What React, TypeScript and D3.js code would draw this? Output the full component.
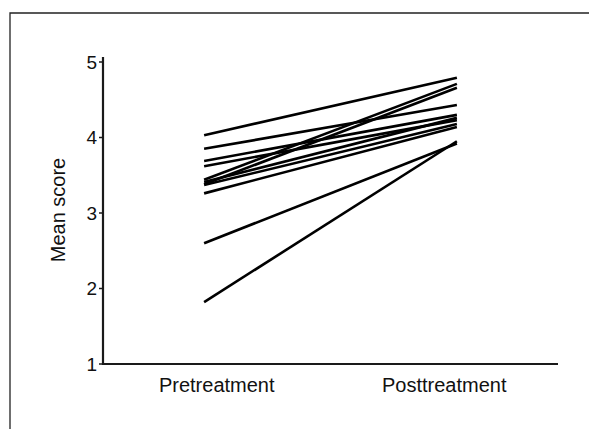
import React, { useEffect, useRef } from "react"
import * as d3 from "d3"

const categories = ["Pretreatment", "Posttreatment"]
const preScores = [4.03, 3.85, 3.69, 3.62, 3.44, 3.38, 3.41, 3.37, 3.26, 2.6, 1.82]
const postScores = [4.79, 4.43, 4.3, 4.23, 4.71, 4.66, 4.26, 4.18, 4.14, 3.92, 3.95]
const yTicks = [1, 2, 3, 4, 5]

const width = 589
const height = 429

export default function App() {
  const ref = useRef<SVGSVGElement>(null)

  useEffect(() => {
    const svg = d3.select(ref.current)
    svg.selectAll("*").remove()

    const left = 103, right = 558, top = 62, bottom = 364
    const font = "'Liberation Sans', Arial, sans-serif"

    const xScale = d3.scalePoint().domain(categories).range([left, right]).padding(0.4)
    const labelScale = d3.scalePoint().domain(categories).range([left, right]).padding(0.5)
    const yScale = d3.scaleLinear().domain([1, 5]).range([bottom, top])

    // frame (top + left only)
    svg.append("path")
      .attr("d", `M10,${height}V13H${width}`)
      .attr("fill", "none")
      .attr("stroke", "#222")
      .attr("stroke-width", 1.3)

    // subject lines
    const line = d3.line<[string, number]>()
      .x(d => xScale(d[0]) as number)
      .y(d => yScale(d[1]))
    preScores.forEach((pre, i) => {
      svg.append("path")
        .attr("d", line([[categories[0], pre], [categories[1], postScores[i]]]))
        .attr("fill", "none")
        .attr("stroke", "#000")
        .attr("stroke-width", 2.6)
    })

    // axes
    svg.append("path")
      .attr("d", `M${left},${top - 5}V${bottom}H${right}`)
      .attr("fill", "none")
      .attr("stroke", "#1a1a1a")
      .attr("stroke-width", 2.2)

    const yAxis = svg.append("g")
    yAxis.selectAll("line").data(yTicks).enter().append("line")
      .attr("x1", left - 4).attr("x2", left)
      .attr("y1", d => yScale(d)).attr("y2", d => yScale(d))
      .attr("stroke", "#1a1a1a").attr("stroke-width", 1.5)
    yAxis.selectAll("text").data(yTicks).enter().append("text")
      .attr("x", left - 6)
      .attr("y", d => yScale(d))
      .attr("dy", "0.36em")
      .attr("text-anchor", "end")
      .attr("font-family", font)
      .attr("font-size", 19)
      .attr("fill", "#111")
      .text(d => d)

    svg.append("g").selectAll("text").data(categories).enter().append("text")
      .attr("x", d => labelScale(d) as number)
      .attr("y", bottom + 28)
      .attr("text-anchor", "middle")
      .attr("font-family", font)
      .attr("font-size", 20)
      .attr("fill", "#111")
      .text(d => d)

    svg.append("text")
      .attr("transform", `translate(65,${(top + bottom) / 2 - 3}) rotate(-90)`)
      .attr("text-anchor", "middle")
      .attr("font-family", font)
      .attr("font-size", 20)
      .attr("fill", "#111")
      .text("Mean score")
  }, [])

  return (
    <svg ref={ref} width={width} height={height}
      style={{ position: "absolute", left: 0, top: 0, background: "#fff" }} />
  )
}
